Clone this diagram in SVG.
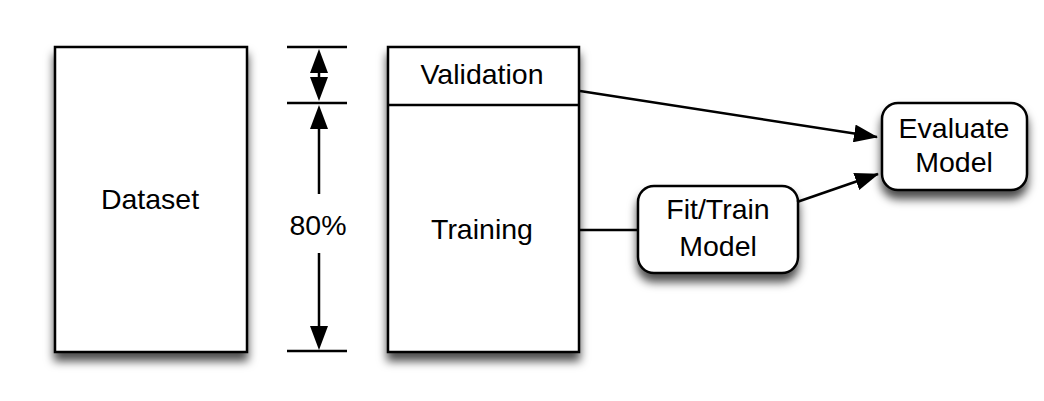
<svg xmlns="http://www.w3.org/2000/svg" width="1044" height="401" viewBox="0 0 1044 401">
<defs>
<filter id="sh" x="-20%" y="-20%" width="140%" height="150%">
<feDropShadow dx="0" dy="8" stdDeviation="5" flood-color="#000" flood-opacity="0.7"/>
</filter>
<marker id="ah" markerWidth="24" markerHeight="18" refX="23" refY="9" orient="auto" markerUnits="userSpaceOnUse">
<path d="M0,0 L24,9 L0,18 Z" fill="#000"/>
</marker>
<style>
.box{fill:#fff;stroke:#000;stroke-width:2.5}
.t{font-family:"Liberation Sans",Arial,sans-serif;font-size:28.5px;text-anchor:middle;fill:#000}
.ln{stroke:#000;stroke-width:2.5;fill:none}
</style>
</defs>
<rect width="1044" height="401" fill="#fff"/>
<g id="dataset">
<rect class="box" x="55" y="47" width="192" height="305" filter="url(#sh)"/>
<text class="t" x="150" y="209">Dataset</text>
</g>
<g id="split">
<rect class="box" x="388" y="47" width="191" height="305" filter="url(#sh)"/>
<line class="ln" x1="388" y1="105" x2="579" y2="105"/>
<text class="t" x="482" y="84">Validation</text>
<text class="t" x="482" y="239">Training</text>
</g>
<g id="dimension">
<line class="ln" x1="287" y1="47" x2="347" y2="47"/>
<line class="ln" x1="287" y1="103" x2="347" y2="103"/>
<line class="ln" x1="287" y1="351" x2="347" y2="351"/>
<path d="M319,49 L328,73 L310,73 Z" fill="#000"/>
<path d="M319,101 L328,77 L310,77 Z" fill="#000"/>
<line class="ln" x1="319" y1="72" x2="319" y2="78"/>
<path d="M319,105 L328,129 L310,129 Z" fill="#000"/>
<line class="ln" x1="319" y1="128" x2="319" y2="194"/>
<path d="M319,350 L328,326 L310,326 Z" fill="#000"/>
<line class="ln" x1="319" y1="253" x2="319" y2="327"/>
<text class="t" x="318" y="235">80%</text>
</g>
<g id="fit">
<rect class="box" x="638" y="186" width="160" height="87" rx="16" filter="url(#sh)"/>
<text class="t" x="718" y="219">Fit/Train</text>
<text class="t" x="718" y="256">Model</text>
</g>
<g id="evaluate">
<rect class="box" x="882" y="103" width="145" height="87" rx="16" filter="url(#sh)"/>
<text class="t" x="954" y="138">Evaluate</text>
<text class="t" x="954" y="172">Model</text>
</g>
<g id="connectors">
<line class="ln" x1="580" y1="91" x2="877" y2="137" marker-end="url(#ah)"/>
<line class="ln" x1="580" y1="230" x2="638" y2="230"/>
<line class="ln" x1="797" y1="202" x2="878" y2="174" marker-end="url(#ah)"/>
</g>
</svg>
